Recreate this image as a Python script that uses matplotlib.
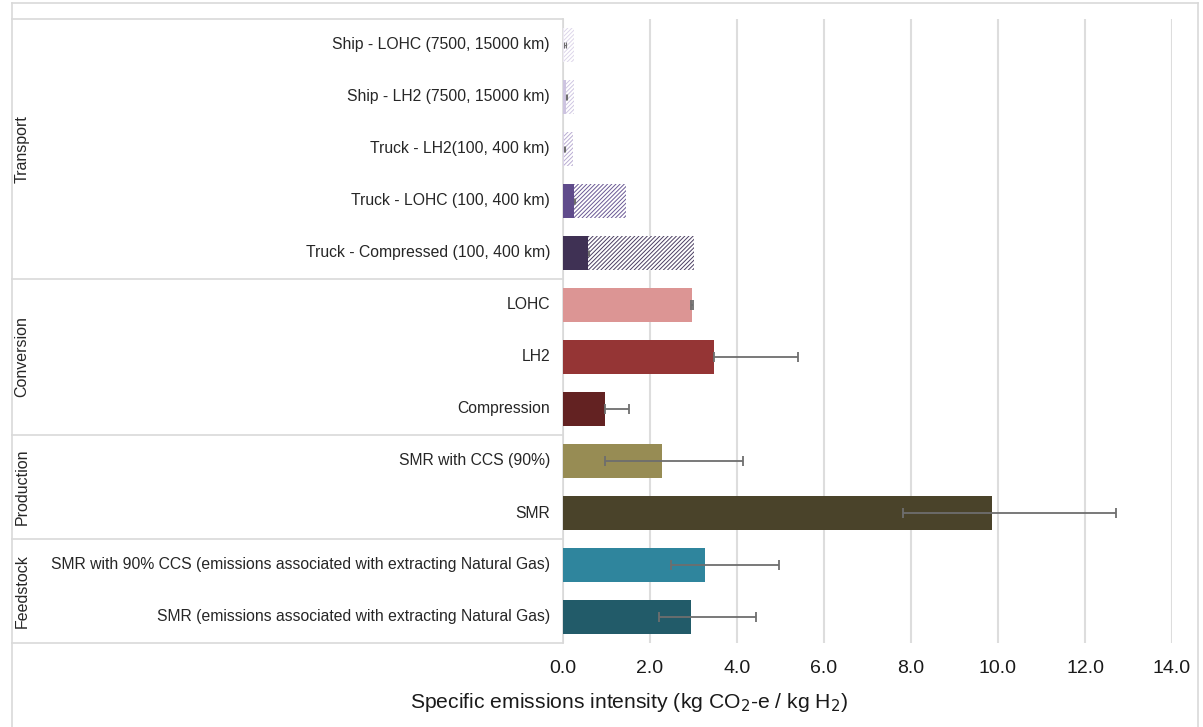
import matplotlib
matplotlib.use("Agg")
import matplotlib.pyplot as plt
import numpy as np
from matplotlib.transforms import blended_transform_factory

plt.rcParams['font.family'] = ['Liberation Sans', 'DejaVu Sans']
plt.rcParams['hatch.linewidth'] = 0.7

labels = ["Ship - LOHC (7500, 15000 km)", "Ship - LH2 (7500, 15000 km)",
          "Truck - LH2(100, 400 km)", "Truck - LOHC (100, 400 km)",
          "Truck - Compressed (100, 400 km)", "LOHC", "LH2", "Compression",
          "SMR with CCS (90%)", "SMR",
          "SMR with 90% CCS (emissions associated with extracting Natural Gas)",
          "SMR (emissions associated with extracting Natural Gas)"]
values = [0.03, 0.08, 0.03, 0.26, 0.58, 2.96, 3.47, 0.97, 2.27, 9.86, 3.27, 2.94]
hatched_totals = [0.25, 0.25, 0.24, 1.45, 3.0]
err_low = [0.03, 0.06, 0.02, 0.26, 0.58, 2.95, 3.47, 0.97, 0.97, 7.81, 2.48, 2.21]
err_high = [0.07, 0.10, 0.04, 0.27, 0.59, 2.98, 5.41, 1.52, 4.13, 12.71, 4.97, 4.44]
groups = ["Transport", "Conversion", "Production", "Feedstock"]
group_sizes = [5, 3, 2, 2]
colors = ["#ece8f3", "#cdc4e0", "#d9d1e8", "#5f4b8b", "#3f3154",
          "#dc9594", "#953535", "#632222", "#978c54", "#4a432a",
          "#2f859d", "#225b69"]
hatch_colors = ["#ddd6ea", "#cfc6e2", "#b9acd2", "#6a5894", "#4a3d62"]

W, H = 1203, 727
fig = plt.figure(figsize=(W / 100, H / 100), dpi=100)
ax = fig.add_axes([563 / W, 1 - 643 / H, (1172 - 563) / W, (643 - 19) / H])

y = np.arange(len(labels))
bh = 0.655
for i, tot in enumerate(hatched_totals):
    ax.barh(y[i], tot - values[i], left=values[i], height=bh, color="white",
            edgecolor=hatch_colors[i], hatch="////////", linewidth=0, zorder=2)
ax.barh(y, values, height=bh, color=colors, linewidth=0, zorder=3)
for i in range(len(labels)):
    small = i < 5
    ax.errorbar([values[i]], [y[i]],
                xerr=[[values[i] - err_low[i]], [err_high[i] - values[i]]],
                fmt="none", ecolor="#6e6e6e",
                elinewidth=0.8 if small else 1.3,
                capsize=2 if small else 3.5,
                capthick=0.8 if small else 1.3, zorder=4)

ax.set_xlim(0, 14)
ax.set_ylim(len(labels) - 0.5, -0.5)
ticks = np.arange(0, 14.1, 2)
ax.set_xticks(ticks)
ax.set_xticklabels([f"{v:.1f}" for v in ticks], fontsize=14, color="#1a1a1a")
ax.set_yticks([])
ax.tick_params(axis="x", length=0, pad=12)
ax.grid(axis="x", color="#dddddd", linewidth=1.5, zorder=0)
ax.set_axisbelow(True)
for s in ["top", "right", "bottom"]:
    ax.spines[s].set_visible(False)
ax.spines["left"].set_color("#d9d9d9")
ax.spines["left"].set_linewidth(1.2)
fig.text(629 / W, 1 - 702 / H, "Specific emissions intensity (kg CO$_2$-e / kg H$_2$)",
         fontsize=15.2, color="#1a1a1a", ha="center", va="center")

tr = blended_transform_factory(fig.transFigure, ax.transData)
for i, lab in enumerate(labels):
    ax.text(550 / W, y[i], lab, transform=tr, ha="right", va="center",
            fontsize=11.3, color="#262626")

lc = "#d9d9d9"
start = -0.5
bounds = [start]
for gname, gs in zip(groups, group_sizes):
    end = start + gs
    ax.text(22 / W, (start + end) / 2, gname, transform=tr, rotation=90,
            ha="center", va="center", fontsize=11.5, color="#262626")
    bounds.append(end)
    start = end
for b in bounds:
    ax.plot([12 / W, 563 / W], [b, b], transform=tr, color=lc, lw=1.2,
            clip_on=False, zorder=1)

fig.add_artist(plt.Line2D([12 / W, 12 / W], [0, 1 - 3 / H], color=lc, lw=1.2))
fig.add_artist(plt.Line2D([1198 / W, 1198 / W], [0, 1 - 3 / H], color=lc, lw=1.2))
fig.add_artist(plt.Line2D([12 / W, 1198 / W], [1 - 3 / H, 1 - 3 / H], color=lc, lw=1.2))

fig.savefig("out.png", dpi=100)
